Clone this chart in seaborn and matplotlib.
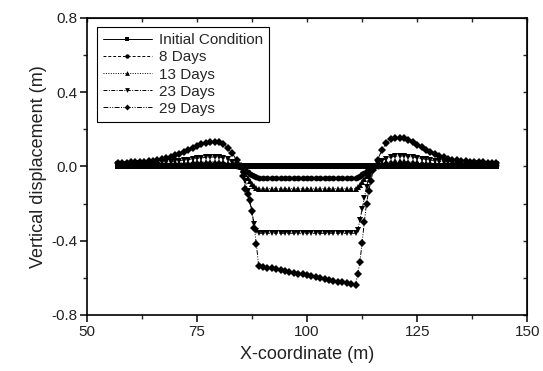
import numpy as np
import pandas as pd
import matplotlib
matplotlib.use("Agg")
import matplotlib.pyplot as plt
from matplotlib.ticker import MultipleLocator
import seaborn as sns

sns.set_style("ticks")
plt.rcParams['font.family'] = ['Liberation Sans', 'DejaVu Sans']

# x grid (m): 1 m outside the pit, 0.5 m along the walls
x_coord = [57, 58, 59, 60, 61, 62, 63, 64, 65, 66, 67, 68, 69, 70, 71, 72, 73, 74, 75, 76,
           77, 78, 79, 80, 81, 82, 83, 84,
           85, 85.5, 86, 86.5, 87, 87.5, 88, 88.5,
           89, 90, 91, 92, 93, 94, 95, 96, 97, 98, 99, 100, 101, 102, 103, 104, 105, 106,
           107, 108, 109, 110, 111,
           111.5, 112, 112.5, 113, 113.5, 114, 114.5, 115,
           116, 117, 118, 119, 120, 121, 122, 123, 124, 125, 126, 127, 128, 129, 130, 131,
           132, 133, 134, 135, 136, 137, 138, 139, 140, 141, 142, 143]

initial = [0.0] * 95

day8 = [0.005, 0.005, 0.005, 0.005, 0.005, 0.005, 0.006, 0.006, 0.006, 0.007, 0.007, 0.008,
        0.008, 0.009, 0.009, 0.010, 0.010, 0.011, 0.011, 0.012, 0.012, 0.012, 0.012, 0.012,
        0.011, 0.008, 0.005, 0.001,
        -0.003, -0.010, -0.020, -0.030, -0.040, -0.048, -0.054, -0.058,
        -0.060, -0.060, -0.060, -0.060, -0.060, -0.060, -0.060, -0.060, -0.060, -0.060, -0.060,
        -0.060, -0.060, -0.060, -0.060, -0.060, -0.060, -0.060, -0.060, -0.060, -0.060, -0.060,
        -0.060,
        -0.057, -0.050, -0.042, -0.033, -0.024, -0.015, -0.008, -0.001,
        0.004, 0.008, 0.011, 0.013, 0.014, 0.014, 0.013, 0.012, 0.011, 0.010, 0.009, 0.008,
        0.008, 0.007, 0.007, 0.006, 0.006, 0.006, 0.005, 0.005, 0.005, 0.005, 0.005, 0.005,
        0.005, 0.005, 0.005, 0.005]

day13 = [0.010, 0.010, 0.010, 0.010, 0.010, 0.011, 0.011, 0.012, 0.012, 0.013, 0.014, 0.015,
         0.016, 0.017, 0.018, 0.019, 0.020, 0.021, 0.022, 0.023, 0.024, 0.025, 0.025, 0.024,
         0.021, 0.016, 0.010, 0.003,
         -0.005, -0.020, -0.040, -0.060, -0.080, -0.095, -0.108, -0.116,
         -0.120, -0.120, -0.120, -0.120, -0.120, -0.120, -0.120, -0.120, -0.120, -0.120, -0.120,
         -0.120, -0.120, -0.120, -0.120, -0.120, -0.120, -0.120, -0.120, -0.120, -0.120, -0.120,
         -0.120,
         -0.112, -0.100, -0.085, -0.068, -0.050, -0.032, -0.016, -0.003,
         0.008, 0.016, 0.022, 0.026, 0.028, 0.028, 0.027, 0.026, 0.024, 0.022, 0.020, 0.018,
         0.017, 0.015, 0.014, 0.013, 0.012, 0.011, 0.011, 0.010, 0.010, 0.010, 0.010, 0.010,
         0.010, 0.010, 0.010, 0.010]

day23 = [0.015, 0.015, 0.015, 0.015, 0.016, 0.016, 0.017, 0.018, 0.019, 0.020, 0.022, 0.024,
         0.026, 0.028, 0.031, 0.034, 0.037, 0.040, 0.043, 0.046, 0.048, 0.050, 0.051, 0.050,
         0.046, 0.038, 0.025, 0.010,
         -0.010, -0.040, -0.080, -0.130, -0.190, -0.250, -0.310, -0.350,
         -0.360, -0.360, -0.360, -0.360, -0.360, -0.360, -0.360, -0.360, -0.360, -0.360, -0.360,
         -0.360, -0.360, -0.360, -0.360, -0.360, -0.360, -0.360, -0.360, -0.360, -0.360, -0.360,
         -0.360,
         -0.340, -0.290, -0.230, -0.170, -0.110, -0.060, -0.030, -0.005,
         0.015, 0.030, 0.042, 0.050, 0.054, 0.056, 0.055, 0.053, 0.050, 0.046, 0.042, 0.038,
         0.034, 0.031, 0.028, 0.025, 0.023, 0.021, 0.019, 0.018, 0.017, 0.016, 0.016, 0.015,
         0.015, 0.015, 0.015, 0.015]

day29 = [0.020, 0.020, 0.020, 0.021, 0.022, 0.023, 0.025, 0.027, 0.030, 0.034, 0.039, 0.045,
         0.052, 0.060, 0.069, 0.079, 0.090, 0.101, 0.111, 0.120, 0.127, 0.132, 0.134, 0.131,
         0.120, 0.100, 0.070, 0.035,
         0.000, -0.050, -0.120, -0.150, -0.180, -0.240, -0.330, -0.420,
         -0.535, -0.540, -0.545, -0.549, -0.554, -0.559, -0.563, -0.568, -0.573, -0.578, -0.582,
         -0.587, -0.592, -0.597, -0.601, -0.606, -0.611, -0.616, -0.620, -0.625, -0.630, -0.635,
         -0.640,
         -0.580, -0.515, -0.410, -0.300, -0.200, -0.130, -0.080, -0.020,
         0.035, 0.088, 0.127, 0.146, 0.154, 0.155, 0.151, 0.142, 0.130, 0.116, 0.102, 0.088,
         0.076, 0.065, 0.056, 0.048, 0.042, 0.037, 0.033, 0.030, 0.027, 0.025, 0.023, 0.022,
         0.021, 0.020, 0.020, 0.020]

labels = ["Initial Condition", "8 Days", "13 Days", "23 Days", "29 Days"]
series = [initial, day8, day13, day23, day29]
markers = ["s", "o", "^", "v", "D"]
styles = ["-", (0, (3, 2)), (0, (1, 1.5)), (0, (4, 1.5, 1, 1.5)), (0, (5, 1.5, 1, 1.5, 1, 1.5))]
msizes = [4.2, 4.2, 4.6, 4.6, 4.0]

fig = plt.figure(figsize=(5.43, 3.71), dpi=100)
ax = fig.add_axes([0.160, 0.151, 0.811, 0.801])

for lab, yv, mk, ls, ms in zip(labels, series, markers, styles, msizes):
    df = pd.DataFrame({"x": x_coord, "y": yv})
    sns.lineplot(data=df, x="x", y="y", ax=ax, color="k", marker=mk, markersize=ms,
                 markeredgewidth=0, linestyle=ls, linewidth=0.7, estimator=None,
                 sort=False, label=lab)

ax.set_xlim(50, 150)
ax.set_ylim(-0.8, 0.8)
ax.xaxis.set_major_locator(MultipleLocator(25))
ax.xaxis.set_minor_locator(MultipleLocator(12.5))
ax.yaxis.set_major_locator(MultipleLocator(0.4))
ax.yaxis.set_minor_locator(MultipleLocator(0.2))
ax.yaxis.set_major_formatter(matplotlib.ticker.FormatStrFormatter("%.1f"))
ax.tick_params(which="major", direction="out", length=5, width=1.1, labelsize=11, colors="k",
               pad=2)
ax.tick_params(which="minor", direction="out", length=3, width=1.0)
ax.tick_params(axis="both", labelcolor="#222222")
for sp in ax.spines.values():
    sp.set_linewidth(1.2)
    sp.set_color("k")

# small inward ticks on the top and right frame
top = ax.secondary_xaxis("top")
top.xaxis.set_major_locator(MultipleLocator(25))
top.xaxis.set_minor_locator(MultipleLocator(12.5))
top.tick_params(which="both", direction="in", length=3, width=1.0, labeltop=False)
right = ax.secondary_yaxis("right")
right.yaxis.set_major_locator(MultipleLocator(0.4))
right.yaxis.set_minor_locator(MultipleLocator(0.2))
right.tick_params(which="both", direction="in", length=3, width=1.0, labelright=False)

ax.set_xlabel("X-coordinate (m)", fontsize=13, color="#222222", labelpad=5)
ax.set_ylabel("Vertical displacement (m)", fontsize=13, color="#222222", labelpad=3)

leg = ax.legend(loc="upper left", bbox_to_anchor=(0.022, 0.968), borderaxespad=0,
                fontsize=11, handlelength=3.2, handletextpad=0.5, labelspacing=0.2,
                fancybox=False, edgecolor="k", framealpha=1, borderpad=0.4, markerscale=0.75)
leg.get_frame().set_linewidth(0.8)

plt.savefig("out.png", dpi=100)
